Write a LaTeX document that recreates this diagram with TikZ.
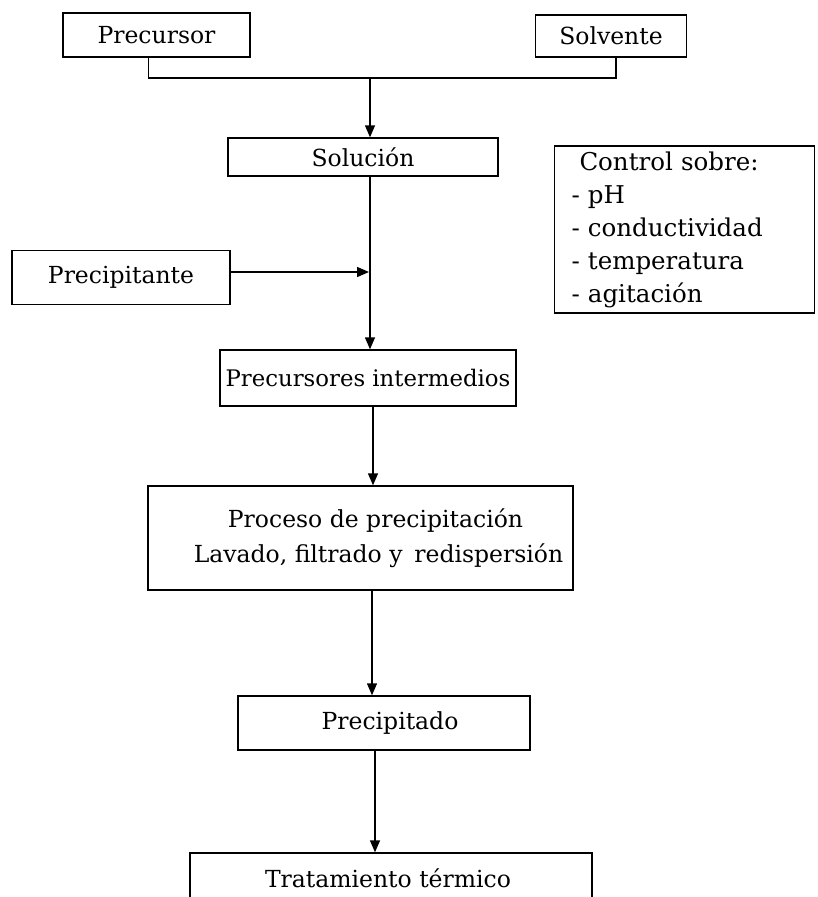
\documentclass[tikz,border=0pt]{standalone}
\usepackage{fontspec}
\setmainfont{DejaVu Serif}
\usetikzlibrary{arrows.meta}
\begin{document}
\begin{tikzpicture}[x=1pt,y=-1pt,
  box/.style={draw,line width=1.4pt,inner sep=0pt,font=\fontsize{23.5}{35}\selectfont},
  conn/.style={line width=1.4pt},
  arr/.style={line width=1.4pt,-{Triangle[length=12pt,width=10pt]}}]
\useasboundingbox (0,0) rectangle (817,897);
\clip (0,0) rectangle (817,897);
\node[box,minimum width=187pt,minimum height=44pt] (prec) at (156.5,35) {Precursor\hspace{16pt}};
\node[box,minimum width=151pt,minimum height=42pt] (solv) at (611,36) {Solvente};
\node[box,minimum width=270pt,minimum height=38pt] (sol) at (363,157) {Solución};
\node[box,minimum width=218pt,minimum height=54pt] (precip) at (121,277.5) {Precipitante\hspace{12pt}};
\node[box,align=left,text width=226pt,inner xsep=17pt,minimum height=167pt,font=\fontsize{24.5}{33}\selectfont] (ctrl) at (684.5,229.5)
  {\hspace{8pt}Control sobre:\\- pH\\- conductividad\\- temperatura\\- agitación};
\node[box,minimum width=296pt,minimum height=56pt,font=\fontsize{22.8}{35}\selectfont] (inter) at (368,378) {Precursores intermedios};
\node[box,align=center,minimum width=425pt,minimum height=104pt] (proc) at (360.5,538)
  {\hspace{30pt}Proceso de precipitación\\\hspace{36pt}Lavado, filtrado y\enspace redispersión};
\node[box,minimum width=292pt,minimum height=54pt] (pdo) at (384,723) {\hspace{12pt}Precipitado};
\node[box,minimum width=402pt,minimum height=90pt] (trat) at (391,898) {};
\node[font=\fontsize{23.5}{35}\selectfont] (tratlbl) at (388,878) {Tratamiento térmico};
\coordinate (j) at (370,78);
\coordinate (m) at (369,272);
\draw[conn] ([xshift=-8pt]prec.south) |- (j) -| ([xshift=5pt]solv.south);
\draw[arr] (j) -- (j |- sol.north);
\draw[arr] (precip.east |- m) -- (m);
\draw[arr] (j |- sol.south) -- (j |- inter.north);
\draw[arr] ([xshift=3pt]inter.south -| j) -- ([xshift=3pt]proc.north -| j);
\draw[arr] ([xshift=-12pt]proc.south -| pdo) -- ([xshift=-12pt]pdo.north);
\draw[arr] ([xshift=-9pt]pdo.south) -- ([xshift=-9pt]pdo.south |- trat.north);
\end{tikzpicture}
\end{document}
